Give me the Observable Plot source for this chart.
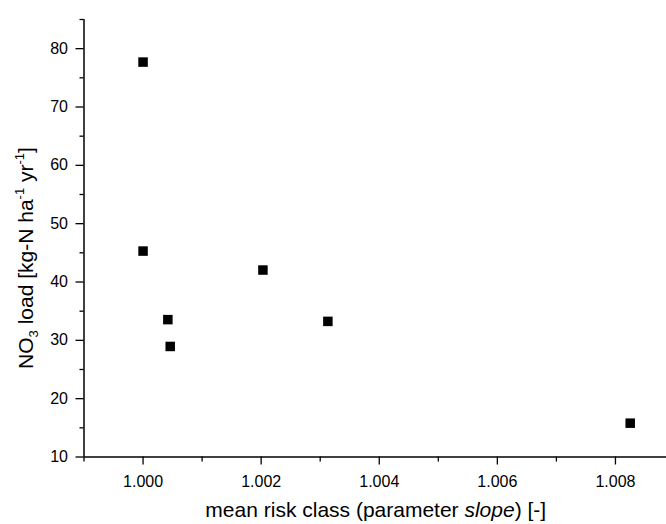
<!DOCTYPE html>
<html>
<head>
<meta charset="utf-8">
<script src="https://cdn.jsdelivr.net/npm/d3@7"></script>
<script src="https://cdn.jsdelivr.net/npm/@observablehq/plot@0.6"></script>
<style>
  html, body { margin: 0; padding: 0; background: #fff; }
  svg { display: block; }
</style>
</head>
<body>
<div id="chart"></div>
<script>
// mean risk class (parameter slope)
const riskClass = [1.0000, 1.0000, 1.00203, 1.00042, 1.00313, 1.00046, 1.00825];
// NO3 load [kg-N ha-1 yr-1]
const no3Load   = [77.7, 45.3, 42.05, 33.55, 33.25, 28.95, 15.8];

const xMajor = [1.000, 1.002, 1.004, 1.006, 1.008];
const xMinor = [0.999, 1.001, 1.003, 1.005, 1.007, 1.009];
const yMajor = [10, 20, 30, 40, 50, 60, 70, 80];
const yMinor = [15, 25, 35, 45, 55, 65, 75, 85];

const data = riskClass.map((x, i) => ({x, y: no3Load[i]}));

const W = 666, H = 524;
const mL = 83.5, mT = 19, mB = 67.5;

const font = "'Liberation Sans', Arial, Helvetica, sans-serif";

const plot = Plot.plot({
  width: W,
  height: H,
  marginLeft: mL,
  marginTop: mT,
  marginBottom: mB,
  marginRight: 0,
  style: {fontFamily: font, fontSize: "16px", background: "#fff", color: "#000"},
  x: {domain: [0.999, 1.009], range: [mL, 674]},
  y: {domain: [10, 85]},
  marks: [
    Plot.axisX({ticks: xMajor, tickSize: 8, tickPadding: 11, tickFormat: d3.format(".3f"), label: null, fontSize: 16, strokeWidth: 1.3}),
    Plot.axisX({ticks: xMinor, tickSize: 5, tickFormat: null, text: null, label: null, strokeWidth: 1.3}),
    Plot.axisY({ticks: yMajor, tickSize: 8, tickPadding: 8, tickFormat: d => String(d), label: null, fontSize: 16, strokeWidth: 1.3}),
    Plot.axisY({ticks: yMinor, tickSize: 4, text: null, label: null, strokeWidth: 1.3}),
    Plot.ruleX([0.999], {stroke: "#000", strokeWidth: 1.5}),
    Plot.ruleY([10], {stroke: "#000", strokeWidth: 1.5}),
    Plot.dot(data, {x: "x", y: "y", symbol: "square", r: 5.36, fill: "#000", stroke: "none"})
  ]
});

const svg = d3.select(plot);

// x-axis label with italic "slope"
const xl = svg.append("text")
  .attr("x", (mL + W) / 2 + 1)
  .attr("y", 517)
  .attr("text-anchor", "middle")
  .attr("font-family", font)
  .attr("font-size", 21)
  .attr("fill", "#000");
xl.append("tspan").text("mean risk class (parameter ");
xl.append("tspan").attr("font-style", "italic").text("slope");
xl.append("tspan").text(") [-]");

// y-axis label with sub/superscripts
const yl = svg.append("text")
  .attr("transform", "translate(33,258) rotate(-90)")
  .attr("text-anchor", "middle")
  .attr("font-family", font)
  .attr("font-size", 21)
  .attr("fill", "#000");
yl.append("tspan").text("NO");
yl.append("tspan").attr("font-size", 13).attr("dy", 5).text("3");
yl.append("tspan").attr("dy", -5).text(" load [kg-N ha");
yl.append("tspan").attr("font-size", 13).attr("dy", -9).text("-1");
yl.append("tspan").attr("dy", 9).text(" yr");
yl.append("tspan").attr("font-size", 13).attr("dy", -9).text("-1");
yl.append("tspan").attr("dy", 9).text("]");

document.getElementById("chart").appendChild(plot);
</script>
</body>
</html>
